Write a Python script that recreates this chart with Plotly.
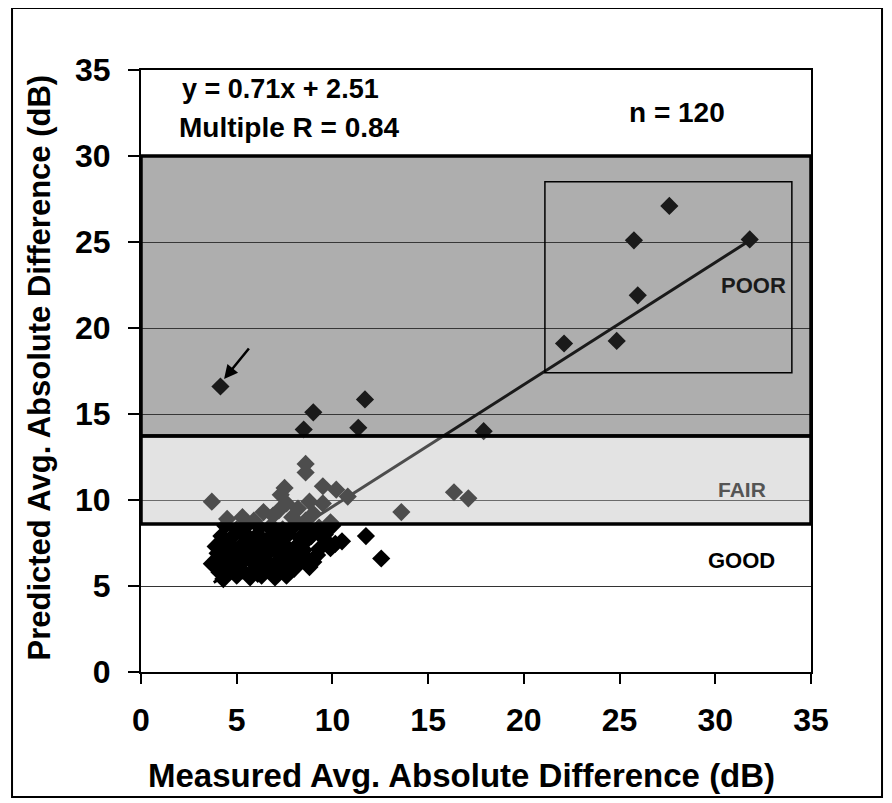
import plotly.graph_objects as go

# ---- data ----
measured_x = [
    # POOR zone
    4.15, 9.0, 11.7, 8.5, 11.35, 17.9, 27.6, 25.75, 31.8, 25.95, 22.1, 24.85,
    # FAIR zone
    8.6, 8.6, 3.7, 7.5, 9.5, 10.2, 10.8, 8.8, 7.6, 6.4, 4.5, 5.3, 6.9, 8.2, 9.5,
    16.35, 17.1, 13.6, 7.2, 7.9, 9.0, 5.9, 8.6, 9.9, 7.3,
    # GOOD zone, right side
    11.75, 12.55, 10.15, 9.3, 10.5, 9.0, 8.8,
    # dense cluster
    4.4, 5.0, 5.6, 6.2, 6.8, 7.4, 8.0, 8.7, 9.3, 10.0,
    4.2, 4.9, 5.5, 6.1, 6.6, 7.2, 7.7, 8.3, 8.9, 9.6,
    3.9, 4.6, 5.2, 5.8, 6.3, 6.9, 7.5, 8.1, 8.6, 9.9,
    4.0, 4.5, 5.1, 5.6, 6.2, 6.7, 7.3, 7.8, 8.4, 9.2,
    3.7, 4.3, 4.8, 5.4, 5.9, 6.5, 7.0, 7.6, 8.2, 8.6,
    4.1, 4.7, 5.3, 5.8, 6.4, 6.9, 7.5, 8.0,
    4.3, 5.0, 5.7, 6.3, 7.0, 7.6,
    6.0, 7.0, 5.0, 6.6, 7.9, 5.4, 6.9, 8.5, 4.6, 6.1, 7.3, 9.6,
]
predicted_y = [
    16.6, 15.1, 15.85, 14.1, 14.2, 14.0, 27.1, 25.1, 25.15, 21.9, 19.1, 19.25,
    12.1, 11.6, 9.9, 10.7, 10.8, 10.6, 10.2, 9.9, 9.8, 9.3, 8.9, 9.0, 9.1, 9.5, 9.8,
    10.45, 10.1, 9.3, 9.4, 9.0, 9.2, 8.8, 8.8, 8.7, 10.3,
    7.9, 6.6, 7.45, 7.15, 7.6, 6.4, 6.1,
    8.5, 8.3, 8.6, 8.4, 8.5, 8.3, 8.5, 8.3, 8.4, 8.5,
    7.9, 8.0, 7.8, 8.0, 7.7, 7.9, 8.0, 7.8, 7.9, 8.0,
    7.3, 7.5, 7.3, 7.5, 7.3, 7.5, 7.4, 7.3, 7.6, 7.2,
    6.9, 6.8, 7.0, 6.8, 6.9, 7.0, 6.8, 7.0, 6.9, 6.8,
    6.3, 6.5, 6.3, 6.5, 6.3, 6.5, 6.3, 6.5, 6.3, 6.6,
    5.8, 6.0, 5.9, 5.8, 6.0, 5.8, 5.9, 6.0,
    5.4, 5.6, 5.5, 5.6, 5.5, 5.6,
    7.1, 7.2, 6.6, 6.2, 6.7, 8.1, 8.2, 7.1, 7.1, 5.7, 6.0, 7.7,
]
fit_slope = 0.71
fit_intercept = 2.51
fit_x = [3.8, 31.8]
fit_y = [fit_slope * v + fit_intercept for v in fit_x]

zone_names = ["GOOD", "FAIR", "POOR"]
zone_bounds = [0, 8.6, 13.72, 30]  # predicted dB
axis_ticks = [0, 5, 10, 15, 20, 25, 30, 35]

FONT = "Liberation Sans, Arial, sans-serif"

fig = go.Figure()
fig.add_trace(go.Scatter(
    x=measured_x, y=predicted_y, mode="markers",
    marker=dict(symbol="diamond", size=14, color="black", line=dict(width=0)),
    showlegend=False, hoverinfo="x+y"))
fig.add_trace(go.Scatter(
    x=fit_x, y=fit_y, mode="lines", line=dict(color="black", width=3),
    showlegend=False, hoverinfo="skip"))

# translucent zone overlays drawn above the data
fig.add_shape(type="rect", xref="x", yref="y", x0=0, x1=35,
              y0=zone_bounds[2], y1=zone_bounds[3],
              fillcolor="rgba(61,61,61,0.42)", line=dict(color="black", width=3.5),
              layer="above")
fig.add_shape(type="rect", xref="x", yref="y", x0=0, x1=35,
              y0=zone_bounds[1], y1=zone_bounds[2],
              fillcolor="rgba(188,188,188,0.41)", line=dict(color="black", width=3.5),
              layer="above")
# inner highlight box
fig.add_shape(type="rect", xref="x", yref="y", x0=21.1, x1=34.0, y0=17.4, y1=28.5,
              line=dict(color="black", width=1.5), layer="above")
# outer frame
fig.add_shape(type="rect", xref="paper", yref="paper",
              x0=-0.1925, x1=1.106, y0=-0.2076, y1=1.103,
              line=dict(color="black", width=2), layer="above")


def pt(px, py):
    return (px - 141) / 670, (672 - py) / 602


for txt, px, py, size, col in [
    ("y = 0.71x + 2.51", 280, 89, 27, "black"),
    ("Multiple R = 0.84", 289, 127, 28, "black"),
    ("n = 120", 677, 112, 28, "black"),
    ("POOR", 753, 285, 22, "#1a1a1a"),
    ("FAIR", 742, 489, 21, "#555555"),
    ("GOOD", 741, 560, 22, "black"),
]:
    xx, yy = pt(px, py)
    fig.add_annotation(x=xx, y=yy, xref="paper", yref="paper", text=txt,
                       showarrow=False, xanchor="center", yanchor="middle",
                       font=dict(family=FONT, weight="bold", size=size, color=col))

# arrow pointing at the outlier
fig.add_annotation(x=4.34, y=17.03, ax=5.7, ay=18.9, xref="x", yref="y",
                   axref="x", ayref="y", text="", showarrow=True,
                   arrowhead=2, arrowsize=1.1, arrowwidth=2.5, arrowcolor="black")

# axis titles
xx, yy = pt(461, 796)
fig.add_annotation(x=xx, y=yy, xref="paper", yref="paper",
                   text="Measured Avg. Absolute Difference (dB)", showarrow=False,
                   font=dict(family=FONT, weight="bold", size=33, color="black"))
xx, yy = pt(19, 368)
fig.add_annotation(x=xx, y=yy, xref="paper", yref="paper", textangle=-90,
                   text="Predicted Avg. Absolute Difference (dB)", showarrow=False,
                   font=dict(family=FONT, weight="bold", size=31, color="black"))

fig.update_xaxes(range=[0, 35], tickvals=axis_ticks, ticks="outside", ticklen=10,
                 tickwidth=2, tickcolor="black", showline=True, linecolor="black",
                 linewidth=2, mirror=True, showgrid=False, zeroline=False,
                 ticklabelstandoff=9,
                 tickfont=dict(family=FONT, weight="bold", size=32, color="black"))
fig.update_yaxes(range=[0, 35], tickvals=axis_ticks, ticks="outside", ticklen=11,
                 tickwidth=2, tickcolor="black", showline=True, linecolor="black",
                 linewidth=2, mirror=True, showgrid=True, gridcolor="#333333",
                 gridwidth=1, zeroline=False, ticklabelstandoff=11,
                 tickfont=dict(family=FONT, weight="bold", size=32, color="black"))

# page body has an 8px margin, so the figure is 8px smaller than the window
fig.update_layout(width=884, height=795, plot_bgcolor="white", paper_bgcolor="white",
                  margin=dict(l=133, r=81, t=62, b=131), showlegend=False)

fig.write_html("out.html")
